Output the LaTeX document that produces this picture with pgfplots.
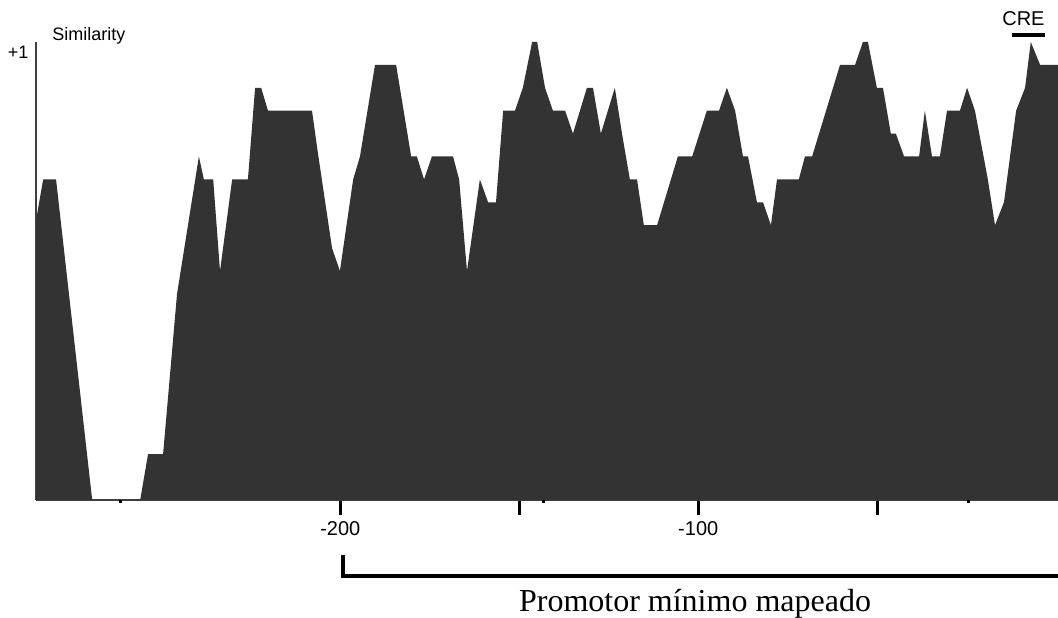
\documentclass[border=0pt]{standalone}
\usepackage{fontspec}
\setmainfont{Liberation Sans}
\newfontfamily\seriffont{Liberation Serif}
\usepackage{pgfplots}
\pgfplotsset{compat=1.18}
\begin{document}
\begin{tikzpicture}
\useasboundingbox (-36pt,-118pt) rectangle (1022pt,500pt);
\begin{axis}[
  at={(0,0)}, anchor=south west,
  scale only axis, width=1022pt, height=458pt,
  xmin=-285, xmax=0.5, ymin=0, ymax=1,
  axis x line=bottom, axis y line=left,
  axis line style={-, line width=1.2pt, black!75},
  xtick={-200,-150,-100,-50},
  xticklabels={\mbox{-200},,\mbox{-100},},
  tick align=outside,
  major tick length=15pt,
  x tick style={line width=3pt, black},
  xticklabel style={font=\fontsize{20}{22}\selectfont, yshift=-3pt},
  ytick={1}, yticklabels={+1},
  y tick style={draw=none},
  yticklabel style={font=\fontsize{18}{20}\selectfont, yshift=-10pt, xshift=11pt},
  extra x ticks={-261.5,-143.1,-24.4},
  extra x tick labels={},
  extra x tick style={major tick length=3pt, tick style={line width=0.8pt, black!70}},
  clip=false,
]
\addplot[fill=black!80, draw=none] coordinates {
(-285.0,0.61) (-283.0,0.70) (-279.4,0.70) (-269.3,0.00) (-255.9,0.00)
(-253.7,0.10) (-249.5,0.10) (-245.6,0.45) (-239.5,0.75) (-238.1,0.70)
(-235.5,0.70) (-233.6,0.50) (-230.2,0.70) (-225.8,0.70) (-223.8,0.90)
(-222.1,0.90) (-220.2,0.85) (-207.9,0.85) (-206.2,0.755) (-202.3,0.55)
(-200.1,0.50) (-196.4,0.70) (-194.5,0.75) (-190.3,0.95) (-184.4,0.95)
(-180.2,0.75) (-178.6,0.75) (-176.6,0.70) (-174.4,0.75) (-168.5,0.75)
(-166.8,0.70) (-164.6,0.50) (-161.0,0.70) (-158.7,0.65) (-156.5,0.65)
(-154.5,0.85) (-151.2,0.85) (-149.0,0.90) (-146.4,1.00) (-145.0,1.00)
(-142.8,0.90) (-140.6,0.85) (-137.2,0.85) (-135.0,0.80) (-131.1,0.90)
(-129.4,0.90) (-127.2,0.80) (-123.3,0.90) (-121.3,0.80) (-119.1,0.70)
(-117.1,0.70) (-115.2,0.60) (-111.5,0.60) (-105.7,0.75) (-101.7,0.75)
(-97.6,0.85) (-94.2,0.85) (-92.0,0.90) (-89.7,0.85) (-87.5,0.75)
(-86.1,0.75) (-83.6,0.65) (-81.9,0.65) (-79.7,0.60) (-78.0,0.70)
(-71.9,0.70) (-70.2,0.75) (-68.2,0.75) (-60.4,0.95) (-56.2,0.95)
(-54.0,1.00) (-52.6,1.00) (-50.1,0.90) (-48.4,0.90) (-46.2,0.80)
(-44.8,0.80) (-42.5,0.75) (-38.3,0.75) (-36.7,0.85) (-34.7,0.75)
(-32.5,0.75) (-30.5,0.85) (-26.9,0.85) (-24.9,0.90) (-22.7,0.85)
(-19.1,0.70) (-17.1,0.60) (-14.6,0.65) (-11.2,0.85) (-8.7,0.90)
(-7.1,1.00) (-4.5,0.95) (0.5,0.95)
} \closedcycle;
\node[anchor=base west, inner sep=0pt, font=\fontsize{18}{20}\selectfont] at (axis cs:-280.5,1.004) {Similarity};
\node[anchor=base, inner sep=0pt, font=\fontsize{20}{22}\selectfont] at (axis cs:-9.15,1.037) {CRE};
\draw[line width=4pt] (axis cs:-12.4,1.0153) -- (axis cs:-3.1,1.0153);
\draw[line width=3.5pt, line join=miter] (axis cs:-199.2,-0.120) -- (axis cs:-199.2,-0.166) -- (axis cs:3,-0.166);
\node[anchor=base, inner sep=0pt, font=\seriffont\fontsize{32}{36}\selectfont] at (axis cs:-100.9,-0.2445) {Promotor mínimo mapeado};
\end{axis}
\end{tikzpicture}
\end{document}
